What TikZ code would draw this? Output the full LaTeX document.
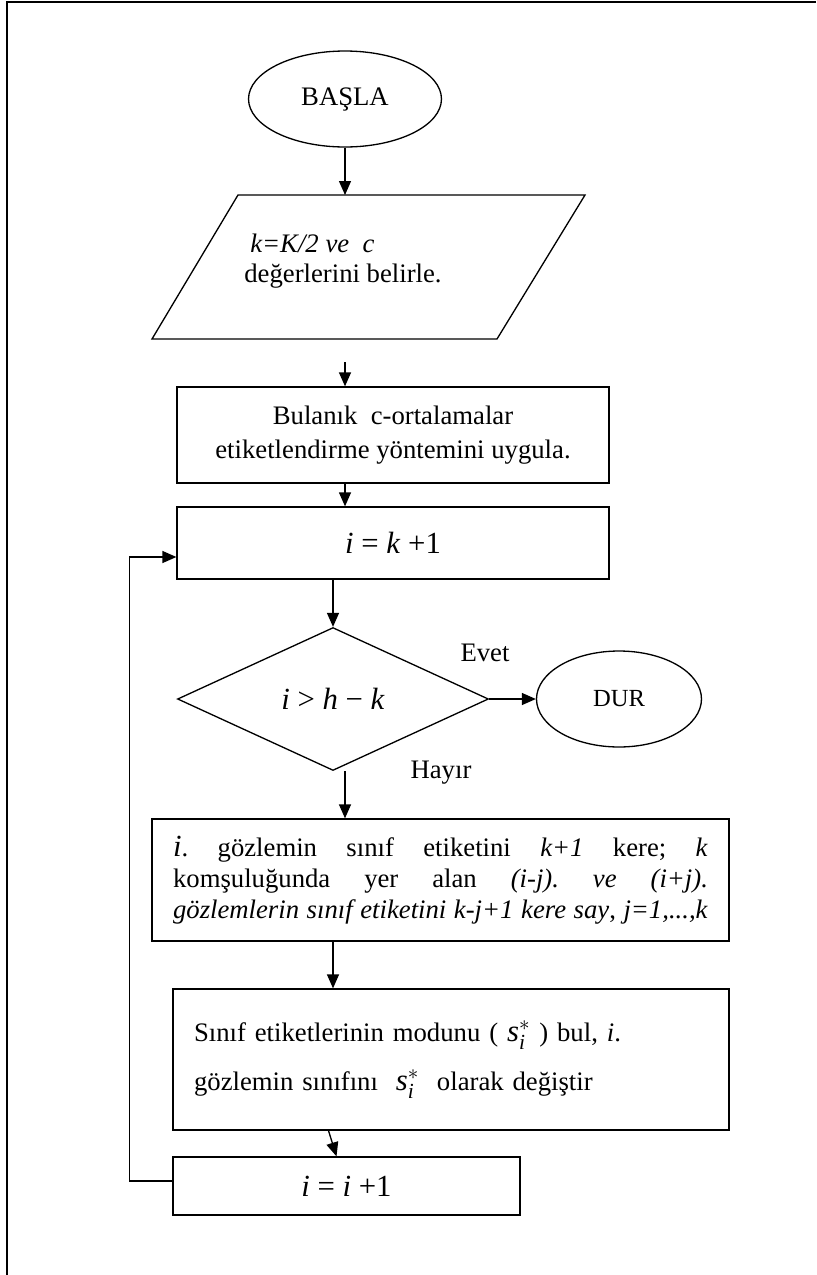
\documentclass[tikz,border=0pt]{standalone}
\usepackage{fontspec}
\setmainfont{Liberation Serif}
\usetikzlibrary{shapes.geometric,arrows.meta}
\newcommand{\satir}[1]{\makebox[10.7cm][s]{#1}}
\newcommand{\buyuk}[1]{{\fontsize{17.5}{17.5}\selectfont #1}}

\begin{document}
\frenchspacing
\begin{tikzpicture}[
    x=0.02cm, y=-0.02cm,
    every node/.append style = {font=\fontsize{15.2}{17.5}\selectfont},
    kutu/.style = {draw, rectangle, line width=0.75pt, inner sep=0pt},
    uc/.style = {draw, ellipse, line width=0.75pt, inner sep=0pt},
    ok/.style = {line width=0.75pt, -{Triangle[length=0.28cm,width=0.24cm]}},
  ]
  \begin{scope}
    %%+++++++++++++++++++++++++
    % Variables
    % main column of arrows
    \pgfmathsetmacro{\xok}{345}
    % boxes
    \pgfmathsetmacro{\xkutu}{393}
    %%+++++++++++++++++++++++++
    % Frame
    \useasboundingbox (0,0) rectangle (816,1275);
    \draw[line width=0.04cm] (7,1275) -- (7,2) -- (816,2);
    % Start
    \node[uc, minimum width=3.86cm, minimum height=1.92cm] (basla) at (\xok,99) {BAŞLA};
    % Input
    \coordinate (p1) at (238,195);
    \coordinate (p2) at (585,195);
    \coordinate (p3) at (497,339);
    \coordinate (p4) at (152,339);
    \draw[line width=0.75pt] (p1) -- (p2) -- (p3) -- (p4) -- cycle;
    \node[align=left, anchor=west, inner sep=0pt] (giris) at (244,261)
      {\hspace{0.12cm}\textit{k=K/2 ve \ c}\\değerlerini belirle.};
    \coordinate (girisust) at (\xok,195);
    \draw[ok] (basla.south) -- (girisust);
    % Fuzzy c-means
    \coordinate (ok2) at (\xok,362);
    \node[kutu, minimum width=8.64cm, minimum height=1.92cm, align=center,
      font=\fontsize{15.2}{19.3}\selectfont] (bulanik) at (\xkutu,435)
      {Bulanık \ c-ortalamalar\\etiketlendirme yöntemini uygula.};
    \draw[ok] (ok2) -- (ok2 |- bulanik.north);
    % i = k+1
    \node[kutu, minimum width=8.64cm, minimum height=1.44cm] (ilk) at (\xkutu,543)
      {\buyuk{\textit{i} = \textit{k} +1}};
    \draw[ok] ([xshift=-0.96cm]bulanik.south) -- ([xshift=-0.96cm]ilk.north);
    % Decision
    \node[draw, diamond, line width=0.75pt, inner sep=0pt, minimum width=6.22cm,
      minimum height=2.86cm] (karar) at (333,699) {\buyuk{\textit{i} > \textit{h} − \textit{k}}};
    \draw[ok] (karar.north |- ilk.south) -- (karar.north);
    \node[uc, minimum width=3.3cm, minimum height=1.92cm,
      font=\fontsize{14}{16}\selectfont] (dur) at (619,699) {DUR};
    \draw[ok] (karar.east) -- (dur.west);
    \node (evet) at (485,653) {Evet};
    \node (hayir) at (441,773) {Hayır};
    % Counting labels
    \node[kutu, minimum width=11.54cm, minimum height=2.44cm, align=left,
      font=\fontsize{15.2}{17.6}\selectfont] (gozlem) at (440.5,880)
      {\satir{\buyuk{\textit{i}}. gözlemin sınıf etiketini \textit{k+1} kere; \textit{k}}\\
       \satir{komşuluğunda yer alan \textit{(i-j).} \textit{ve} \textit{(i+j).}}\\
       \satir{\textit{gözlemlerin sınıf etiketini k-j+1 kere say}, \textit{j=1,...,k}}};
    \draw[ok] ([xshift=0.24cm]karar.south) -- ([xshift=0.24cm]karar.south |- gozlem.north);
    % Mode
    \node[kutu, minimum width=11.12cm, minimum height=2.82cm, align=left,
      text width=10.28cm, inner xsep=0.42cm,
      font=\fontsize{15.2}{28}\selectfont] (sinif) at (451,1059.5)
      {Sınıf etiketlerinin modunu ( \buyuk{\(\mathit{s}_{\mathit{i}}^{*}\)} ) bul, \textit{i}.\\
       gözlemin sınıfını \ \buyuk{\(\mathit{s}_{\mathit{i}}^{*}\)} \ olarak değiştir};
    \draw[ok] (karar.south |- gozlem.south) -- (karar.south |- sinif.north);
    % i = i+1
    \node[kutu, minimum width=6.94cm, minimum height=1.16cm] (artir) at (346.5,1186)
      {\buyuk{\textit{i} = \textit{i} +1}};
    \draw[ok] ([xshift=-0.36cm]artir.north |- sinif.south) -- ([xshift=-0.2cm]artir.north);
    % Loop back
    \draw[ok] ([yshift=0.1cm]artir.west) -- ++(-43,0) |- ([yshift=-0.28cm]ilk.west);
  \end{scope}
\end{tikzpicture}
\end{document}
